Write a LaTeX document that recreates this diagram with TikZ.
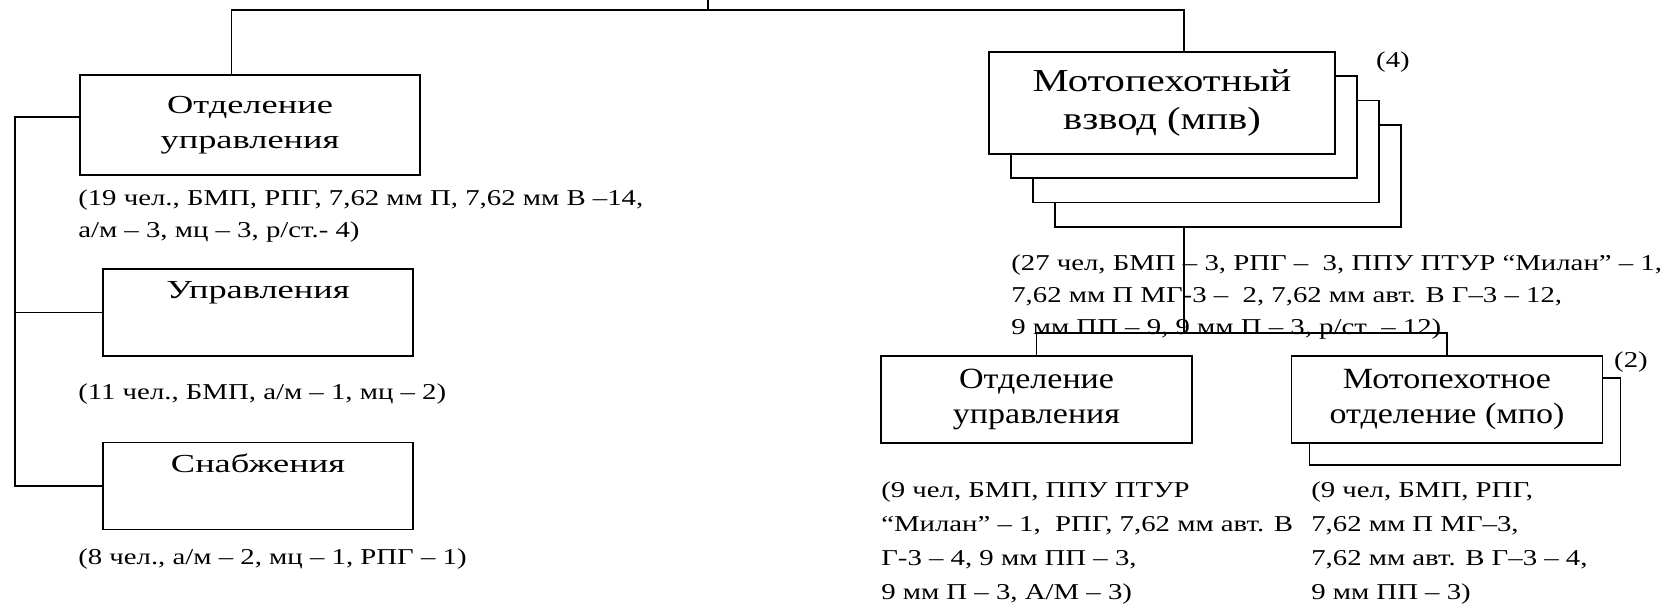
\documentclass[tikz,border=0pt]{standalone}
\usepackage{fontspec}
\setmainfont{Liberation Serif}
\newfontfamily\widefont[FakeStretch=1.4]{Liberation Serif}
\newfontfamily\subfont[FakeStretch=1.16]{Liberation Serif}
\newfontfamily\stretchfont[FakeStretch=1.27]{Liberation Serif}
\usetikzlibrary{positioning,calc,backgrounds}

\tikzset{
  unitbox/.style={draw, line width=1.2pt, fill=white, align=center, inner sep=0pt},
  wide/.style={unitbox, font=\widefont\fontsize{19.5}{26}\selectfont},
  sub/.style={unitbox, font=\subfont\fontsize{22}{26}\selectfont},
  platoon/.style={unitbox, font=\stretchfont\fontsize{24}{28}\selectfont},
  note/.style={anchor=north west, align=left, inner sep=0pt, font=\stretchfont\fontsize{17}{24}\selectfont},
  count/.style={inner sep=0pt, font=\stretchfont\fontsize{17}{24}\selectfont},
  wire/.style={line width=1.2pt},
}

\begin{document}
\begin{tikzpicture}[x=0.75pt,y=-0.75pt]
\useasboundingbox (0,0) rectangle (1663,605);

% left branch
\node[wide, minimum width=255pt, minimum height=75pt] (ctrl) at (250,125) {Отделение\\управления};
\node[note] (ctrlnote) at (78,190) {(19 чел., БМП, РПГ, 7,62 мм П, 7,62 мм В –14,\\а/м – 3, мц – 3, р/ст.- 4)};
\node[wide, minimum width=232.5pt, minimum height=65pt] (mgmt) at (258,312.5) {Управления\\\strut};
\node[note] (mgmtnote) at (78,384) {(11 чел., БМП, а/м – 1, мц – 2)};
\node[wide, minimum width=232.5pt, minimum height=65pt] (supply) at (258,486) {Снабжения\\\strut};
\node[note] (supplynote) at (78,549) {(8 чел., а/м – 2, мц – 1, РПГ – 1)};

% right branch
\node[platoon, minimum width=259.5pt, minimum height=76.5pt] (mpv) at (1162,103) {Мотопехотный\\взвод (мпв)};
\begin{scope}[on background layer]
\foreach \k in {3,2,1}
  \node[unitbox, minimum width=259.5pt, minimum height=76.5pt] (mpv\k) at ($(mpv)+(\k*22,\k*24.3)$) {};
\end{scope}
\node[count] (mpvcount) at (1393,62) {(4)};
\node[note] (mpvnote) at (1011,255) {(27 чел, БМП – 3, РПГ – \ 3, ППУ ПТУР “Милан” – 1,\\7,62 мм П МГ-3 – \ 2, 7,62 мм авт. В Г–3 – 12,\\9 мм ПП – 9, 9 мм П – 3, р/ст \ – 12)};

\node[sub, minimum width=233pt, minimum height=65pt] (subctrl) at (1036.5,399.5) {Отделение\\управления};
\node[sub, minimum width=233pt, minimum height=65pt] (squad) at (1447,399.5) {Мотопехотное\\отделение (мпо)};
\begin{scope}[on background layer]
\node[unitbox, minimum width=233pt, minimum height=65pt] (squadback) at ($(squad)+(18,22)$) {};
\end{scope}
\node[count] (squadcount) at (1631,362) {(2)};
\node[note, font=\stretchfont\fontsize{17}{25.5}\selectfont] (subctrlnote) at (881,482) {(9 чел, БМП, ППУ ПТУР\\“Милан” – 1, \ РПГ, 7,62 мм авт. В\\Г-3 – 4, 9 мм ПП – 3,\\9 мм П – 3, А/М – 3)};
\node[note, font=\stretchfont\fontsize{17}{25.5}\selectfont] (squadnote) at (1311,482) {(9 чел, БМП, РПГ,\\7,62 мм П МГ–3,\\7,62 мм авт. В Г–3 – 4,\\9 мм ПП – 3)};

% connectors
\coordinate (root) at (708,0);
\coordinate (bus) at (708,10);
\coordinate (stem) at (1184,0);
\coordinate (rail) at (15,0);
\coordinate (split) at (1184,333);
\draw[wire] (root) -- (bus);
\draw[wire] ($(ctrl.north)+(-18.5,0)$) |- (bus) -| (stem |- mpv.north);
\draw[wire] ($(ctrl.west)+(0,-8)$) -| (rail |- supply.west) -- (supply.west);
\draw[wire] (mgmt.west) -- (mgmt.west -| rail);
\draw[wire] (stem |- mpv3.south) -- (split);
\draw[wire] (subctrl.north) |- (split) -| (squad.north);
\end{tikzpicture}
\end{document}
